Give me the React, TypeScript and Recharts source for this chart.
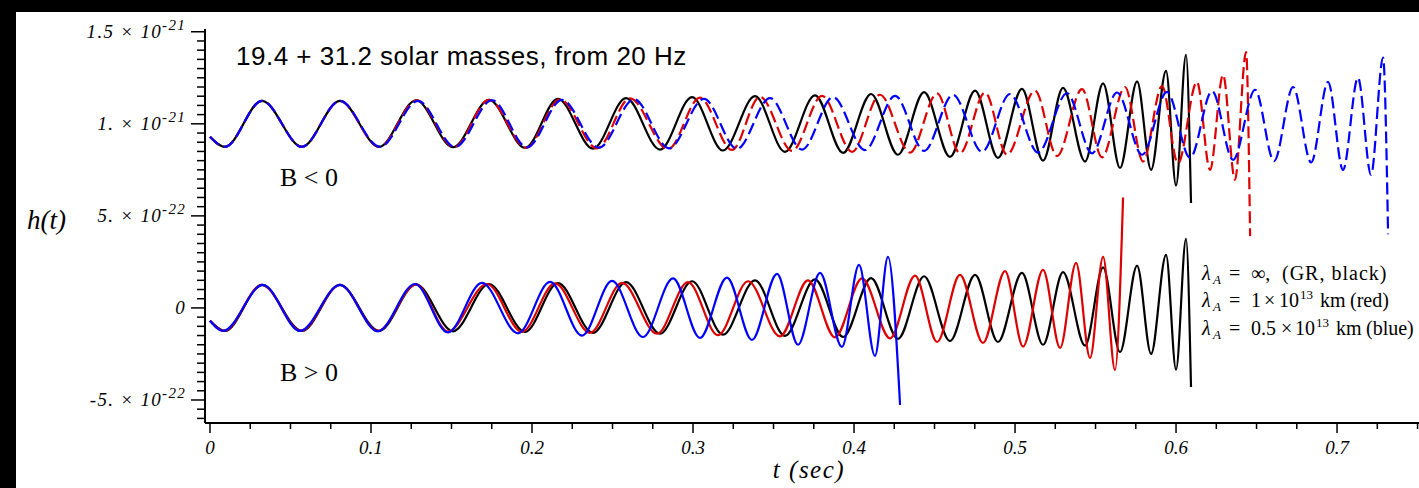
import { LineChart, Line, XAxis, YAxis } from "recharts";

// t in seconds, h in units of 1e-22. Each wave is listed by its turning points.
const GR_WAVE: [number, number][] = [
  [0, -0.7], [0.0093, -1.25], [0.0323, 1.25], [0.0571, -1.25], [0.0807, 1.25],
  [0.105, -1.25], [0.128, 1.28], [0.1509, -1.27], [0.1733, 1.3], [0.1957, -1.3],
  [0.2161, 1.35], [0.2379, -1.35], [0.2584, 1.4], [0.2795, -1.4], [0.2994, 1.45],
  [0.3186, -1.45], [0.3385, 1.5], [0.3571, -1.52], [0.3758, 1.55], [0.3932, -1.58],
  [0.4106, 1.62], [0.4273, -1.68], [0.4435, 1.72], [0.4596, -1.8], [0.4752, 1.8],
  [0.4894, -1.85], [0.5043, 1.9], [0.5174, -2.0], [0.5298, 1.95], [0.5435, -2.05],
  [0.5547, 2.2], [0.5652, -2.4], [0.5758, 2.3], [0.5845, -2.5], [0.5938, 2.88],
  [0.6, -3.35], [0.6062, 3.75], [0.6093, -4.3],
];

// B < 0 (drawn 1e-21 higher)
const RED_B_NEG: [number, number][] = [
  [0, -0.7], [0.0093, -1.25], [0.0323, 1.25], [0.0571, -1.25], [0.0807, 1.25],
  [0.105, -1.25], [0.1286, 1.28], [0.1516, -1.27], [0.1733, 1.3], [0.1963, -1.3],
  [0.2174, 1.33], [0.2404, -1.33], [0.2609, 1.38], [0.2845, -1.38], [0.3043, 1.42],
  [0.3242, -1.42], [0.3416, 1.47], [0.3615, -1.47], [0.3801, 1.52], [0.3988, -1.52],
  [0.4161, 1.58], [0.4348, -1.56], [0.4516, 1.65], [0.4658, -1.6], [0.4814, 1.7],
  [0.495, -1.68], [0.5124, 1.8], [0.5261, -1.75], [0.5416, 1.88], [0.554, -1.82],
  [0.5683, 2.0], [0.5795, -2.05], [0.5913, 2.05], [0.6012, -2.15], [0.613, 2.28],
  [0.6211, -2.5], [0.6292, 2.66], [0.6366, -3.04], [0.6435, 3.9], [0.646, -6.1],
];

const BLUE_B_NEG: [number, number][] = [
  [0, -0.7], [0.0093, -1.25], [0.0323, 1.25], [0.0571, -1.25], [0.0807, 1.25],
  [0.1056, -1.25], [0.1292, 1.25], [0.1522, -1.26], [0.1752, 1.28], [0.1969, -1.28],
  [0.2186, 1.3], [0.2416, -1.3], [0.2634, 1.33], [0.2851, -1.33], [0.3068, 1.36],
  [0.3273, -1.36], [0.3478, 1.4], [0.3677, -1.4], [0.387, 1.45], [0.4068, -1.43],
  [0.4255, 1.52], [0.4435, -1.47], [0.4615, 1.58], [0.4795, -1.52], [0.4969, 1.62],
  [0.5143, -1.56], [0.5323, 1.66], [0.5478, -1.6], [0.5634, 1.7], [0.5789, -1.68],
  [0.5944, 1.74], [0.6087, -1.85], [0.6224, 1.78], [0.6354, -1.96], [0.6491, 1.85],
  [0.6609, -2.03], [0.6727, 2.0], [0.6839, -2.1], [0.6944, 2.28], [0.7037, -2.5],
  [0.713, 2.5], [0.7211, -2.77], [0.7286, 3.6], [0.7317, -6.0],
];

// B > 0
const RED_B_POS: [number, number][] = [
  [0, -0.7], [0.0087, -1.25], [0.0323, 1.25], [0.0565, -1.25], [0.0807, 1.25],
  [0.1043, -1.25], [0.128, 1.28], [0.1478, -1.28], [0.172, 1.3], [0.1938, -1.3],
  [0.2143, 1.33], [0.236, -1.35], [0.2559, 1.36], [0.2776, -1.4], [0.2969, 1.4],
  [0.3155, -1.48], [0.3342, 1.45], [0.354, -1.55], [0.3714, 1.5], [0.3882, -1.6],
  [0.405, 1.6], [0.4224, -1.65], [0.4379, 1.75], [0.4516, -1.85], [0.4658, 1.8],
  [0.4801, -1.9], [0.4938, 2.0], [0.505, -2.1], [0.5174, 2.07], [0.528, -2.17],
  [0.5379, 2.45], [0.5466, -2.72], [0.5547, 2.77], [0.5621, -3.37], [0.5671, 6.0],
];

const BLUE_B_POS: [number, number][] = [
  [0, -0.7], [0.0081, -1.25], [0.0329, 1.25], [0.0559, -1.25], [0.0807, 1.25],
  [0.1043, -1.27], [0.1273, 1.3], [0.1478, -1.33], [0.1689, 1.36], [0.1913, -1.38],
  [0.2112, 1.41], [0.2311, -1.5], [0.2497, 1.47], [0.2689, -1.58], [0.2876, 1.6],
  [0.3043, -1.63], [0.3211, 1.65], [0.3366, -1.74], [0.3522, 1.85], [0.3652, -2.0],
  [0.3789, 1.9], [0.3925, -2.12], [0.4031, 2.34], [0.413, -2.6], [0.4211, 2.77],
  [0.4286, -5.27],
];

const B_NEG_OFFSET = 10; // 1e-21

const X_LABELS = ["0", "0.1", "0.2", "0.3", "0.4", "0.5", "0.6", "0.7"];
const Y_LABELS = [
  { value: 15, base: "1.5 × 10", exp: "-21" },
  { value: 10, base: "1. × 10", exp: "-21" },
  { value: 5, base: "5. × 10", exp: "-22" },
  { value: 0, base: "0", exp: "" },
  { value: -5, base: "-5. × 10", exp: "-22" },
];

const COLORS = { black: "#000000", red: "#dd0000", blue: "#0000ff" };
const SERIF = "'Liberation Serif', 'Times New Roman', serif";

const X_TICKS = Array.from({ length: 31 }, (_, i) => i * 0.025);
const Y_TICKS = Array.from({ length: 43 }, (_, i) => -6 + i * 0.5);

const rows = (wave: [number, number][], offset = 0) =>
  wave.map(([t, h]) => ({ t, h: h + offset }));

function XTick({ x, y, payload }: any) {
  const v = payload.value;
  const k = Math.round(v * 10);
  const major = Math.abs(v * 10 - k) < 1e-6;
  return (
    <g>
      <line x1={x} x2={x} y1={y} y2={y + (major ? 10 : 6)} stroke="#000" strokeWidth={1.5} />
      {major && (
        <text x={x} y={y + 31} textAnchor="middle" fontFamily={SERIF} fontStyle="italic" fontSize={19}>
          {X_LABELS[k]}
        </text>
      )}
    </g>
  );
}

function YTick({ x, y, payload }: any) {
  const lab = Y_LABELS.find((l) => l.value === payload.value);
  return (
    <g>
      <line x1={x - (lab ? 14 : 8)} x2={x} y1={y} y2={y} stroke="#000" strokeWidth={1.5} />
      {lab && (
        <text x={x - 19} y={y + 6} textAnchor="end" fontFamily={SERIF} fontStyle="italic" fontSize={19} letterSpacing={1.3}>
          {lab.base}
          {lab.exp && (
            <tspan dy={-8} fontSize={15}>
              {lab.exp}
            </tspan>
          )}
        </text>
      )}
    </g>
  );
}

const LEG = { fontFamily: SERIF, fontSize: 20 };

export default function App() {
  return (
    <div style={{ position: "fixed", left: 0, top: 0, width: 1419, height: 488, background: "#000", overflow: "hidden" }}>
      <div style={{ position: "absolute", left: 16, top: 12, right: 0, bottom: 0, background: "#fff" }} />
      <div style={{ position: "absolute", left: 0, top: 0 }}>
        <LineChart width={1419} height={488} margin={{ top: 29, right: 0, bottom: 25, left: 0 }}>
          <XAxis
            type="number"
            dataKey="t"
            domain={[-0.0031, 0.7509]}
            allowDataOverflow
            ticks={X_TICKS}
            interval={0}
            tick={(p: any) => <XTick {...p} />}
            tickLine={false}
            tickSize={0}
            tickMargin={0}
            height={40}
            axisLine={{ stroke: "#000", strokeWidth: 2 }}
          />
          <YAxis
            type="number"
            domain={[-6.25, 15.15]}
            allowDataOverflow
            ticks={Y_TICKS}
            interval={0}
            tick={(p: any) => <YTick {...p} />}
            tickLine={false}
            tickSize={0}
            tickMargin={0}
            width={205}
            axisLine={{ stroke: "#000", strokeWidth: 2 }}
          />
          <Line data={rows(GR_WAVE, B_NEG_OFFSET)} dataKey="h" type="monotone" stroke={COLORS.black} strokeWidth={2.2} dot={false} activeDot={false} isAnimationActive={false} />
          <Line data={rows(RED_B_NEG, B_NEG_OFFSET)} dataKey="h" type="monotone" stroke={COLORS.red} strokeWidth={2.2} strokeDasharray="12 5" dot={false} activeDot={false} isAnimationActive={false} />
          <Line data={rows(BLUE_B_NEG, B_NEG_OFFSET)} dataKey="h" type="monotone" stroke={COLORS.blue} strokeWidth={2.2} strokeDasharray="12 5" dot={false} activeDot={false} isAnimationActive={false} />
          <Line data={rows(GR_WAVE)} dataKey="h" type="monotone" stroke={COLORS.black} strokeWidth={2.2} dot={false} activeDot={false} isAnimationActive={false} />
          <Line data={rows(RED_B_POS)} dataKey="h" type="monotone" stroke={COLORS.red} strokeWidth={2.2} dot={false} activeDot={false} isAnimationActive={false} />
          <Line data={rows(BLUE_B_POS)} dataKey="h" type="monotone" stroke={COLORS.blue} strokeWidth={2.2} dot={false} activeDot={false} isAnimationActive={false} />
        </LineChart>
      </div>
      <svg width={1419} height={488} style={{ position: "absolute", left: 0, top: 0, pointerEvents: "none" }}>
        <text x={236} y={65} fontFamily="'Liberation Sans', Arial, sans-serif" fontSize={26} letterSpacing={0.5}>
          19.4 + 31.2 solar masses, from 20 Hz
        </text>
        <text x={280} y={186} fontFamily={SERIF} fontSize={26}>B &lt; 0</text>
        <text x={280} y={381} fontFamily={SERIF} fontSize={26}>B &gt; 0</text>
        <text x={27} y={229} fontFamily={SERIF} fontStyle="italic" fontSize={27}>h(t)</text>
        <text x={809} y={478} textAnchor="middle" fontFamily={SERIF} fontStyle="italic" fontSize={25} letterSpacing={1.5}>t (sec)</text>

        <text y={280} {...LEG}>
          <tspan x={1202} fontStyle="italic">λ</tspan>
          <tspan x={1213} dy={4} fontSize={13} fontStyle="italic">A</tspan>
          <tspan x={1229} dy={-4}>=</tspan>
          <tspan x={1251}>∞,</tspan>
          <tspan x={1282} letterSpacing={1}>(GR, black)</tspan>
        </text>
        <text y={307} {...LEG}>
          <tspan x={1202} fontStyle="italic">λ</tspan>
          <tspan x={1213} dy={4} fontSize={13} fontStyle="italic">A</tspan>
          <tspan x={1229} dy={-4}>=</tspan>
          <tspan x={1251}>1</tspan>
          <tspan x={1264}>×</tspan>
          <tspan x={1279}>10</tspan>
          <tspan x={1300} dy={-8} fontSize={13}>13</tspan>
          <tspan x={1320} dy={8}>km</tspan>
          <tspan x={1350}>(red)</tspan>
        </text>
        <text y={335} {...LEG}>
          <tspan x={1202} fontStyle="italic">λ</tspan>
          <tspan x={1213} dy={4} fontSize={13} fontStyle="italic">A</tspan>
          <tspan x={1229} dy={-4}>=</tspan>
          <tspan x={1251}>0.5</tspan>
          <tspan x={1281}>×</tspan>
          <tspan x={1295}>10</tspan>
          <tspan x={1316} dy={-8} fontSize={13}>13</tspan>
          <tspan x={1336} dy={8}>km</tspan>
          <tspan x={1366}>(blue)</tspan>
        </text>
      </svg>
    </div>
  );
}
